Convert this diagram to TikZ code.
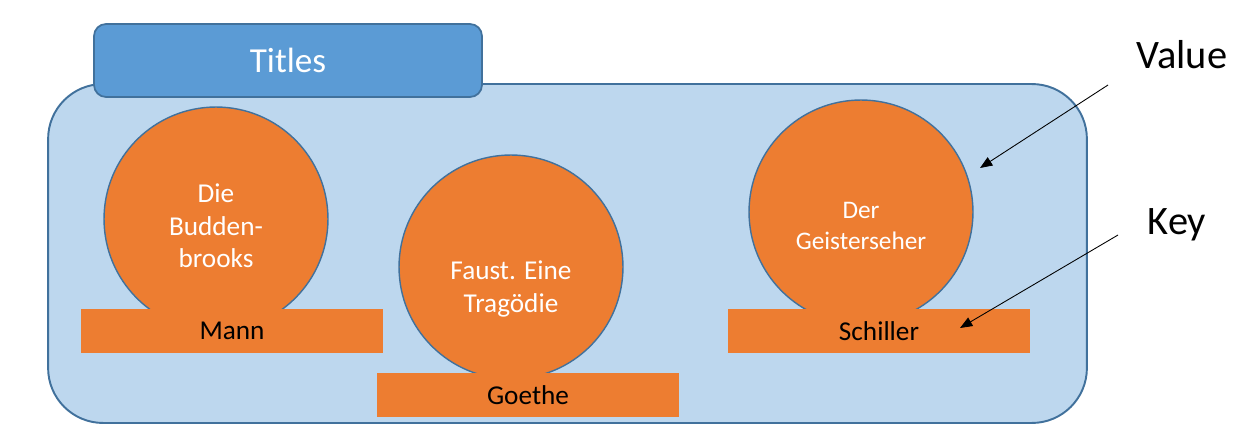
\documentclass[tikz,border=0pt]{standalone}
\usepackage{fontspec}
\setmainfont{Carlito}
\usetikzlibrary{arrows.meta}
\definecolor{boxblue}{HTML}{BDD7EE}
\definecolor{tabblue}{HTML}{5B9BD5}
\definecolor{edgeblue}{HTML}{41719C}
\definecolor{bookorange}{HTML}{ED7D31}
\begin{document}
\begin{tikzpicture}[x=0.02cm,y=-0.02cm,
    container/.style={draw=edgeblue, fill=boxblue, line width=1.1pt, rounded corners=1.1cm,
        minimum width=20.78cm, minimum height=6.78cm, inner sep=0pt},
    tab/.style={draw=edgeblue, fill=tabblue, line width=1pt, rounded corners=0.24cm,
        minimum width=7.76cm, minimum height=1.46cm, inner sep=0pt},
    valuecircle/.style={circle, draw=edgeblue, fill=bookorange, line width=0.8pt,
        minimum size=4.48cm, inner sep=0pt},
    keybox/.style={fill=bookorange, minimum width=6.04cm, minimum height=0.88cm, inner sep=0pt,
        font=\fontsize{15.5}{19}\selectfont},
    valuetext/.style={text=white, align=center, font=\fontsize{15.5}{18.6}\selectfont},
    callout/.style={font=\fontsize{23}{28}\selectfont},
    pointer/.style={-{Triangle[length=7pt,width=5.5pt]}, line width=0.5pt}]
    \useasboundingbox (0,0) rectangle (1250,432);

    % dictionary box and its tab
    \node[container] (dict) at (567.5,253.5) {};
    \node[tab, text=white, font=\fontsize{20}{24}\selectfont] (titles) at (288,60.5) {Titles};

    % values
    \node[valuecircle] (v1) at (216,219) {};
    \node[valuecircle] (v2) at (511,267) {};
    \node[valuecircle] (v3) at (861,212) {};

    \node[valuetext] (t1) at (216,226) {Die\\Budden-\\brooks};
    \node[valuetext] (t2) at (511,289) {Faust. Eine\\Trag\"odie};
    \node[valuetext, font=\fontsize{14.4}{17.6}\selectfont] (t3) at (861,226) {Der\\Geisterseher};

    % keys
    \node[keybox] (k1) at (232,331) {Mann};
    \node[keybox] (k2) at (528,395) {Goethe};
    \node[keybox] (k3) at (879,331) {Schiller};

    % legend
    \node[callout] (valuelabel) at (1182,55) {Value};
    \node[callout] (keylabel) at (1177,225) {Key};
    \coordinate (valuetail) at (1108,85);
    \coordinate (valuetip) at (980,168);
    \coordinate (keytail) at (1118,235);
    \coordinate (keytip) at (960,328);
    \draw[pointer] (valuetail) -- (valuetip);
    \draw[pointer] (keytail) -- (keytip);
\end{tikzpicture}
\end{document}
